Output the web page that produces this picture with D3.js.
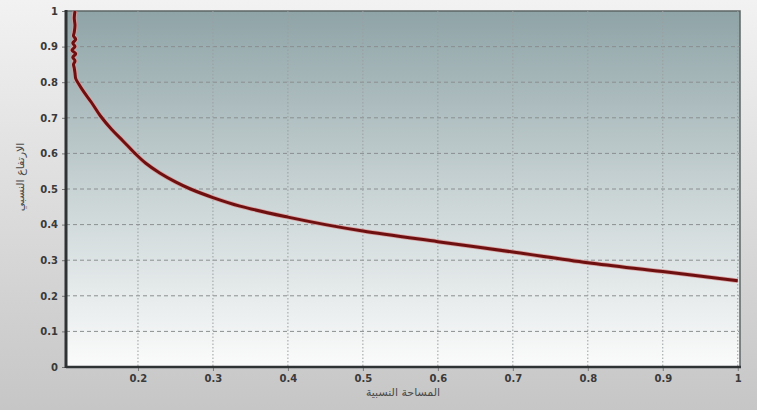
<!DOCTYPE html>
<html>
<head>
<meta charset="utf-8">
<script src="https://cdn.jsdelivr.net/npm/d3@7"></script>
<style>
  body { margin: 0; }
  svg { display: block; }
</style>
</head>
<body>
<div id="chart"></div>
<script>
const xValues = [0.116, 0.115, 0.116, 0.115, 0.114, 0.117, 0.113, 0.116, 0.112, 0.117, 0.113,
    0.116, 0.114, 0.115, 0.116, 0.117, 0.121, 0.128, 0.138, 0.15, 0.165, 0.18, 0.196, 0.21,
    0.229, 0.25, 0.27, 0.3, 0.336, 0.4, 0.45, 0.5, 0.6, 0.7, 0.8, 0.9, 1.0];
const yValues = [1.0, 0.98, 0.96, 0.94, 0.93, 0.92, 0.91, 0.90, 0.89, 0.88, 0.87,
    0.86, 0.85, 0.84, 0.825, 0.81, 0.795, 0.772, 0.743, 0.705, 0.667, 0.635, 0.60, 0.573,
    0.545, 0.52, 0.50, 0.476, 0.452, 0.421, 0.40, 0.382, 0.352, 0.323, 0.293, 0.268, 0.242];
const xTicks = [0.2, 0.3, 0.4, 0.5, 0.6, 0.7, 0.8, 0.9, 1];
const yTicks = [0, 0.1, 0.2, 0.3, 0.4, 0.5, 0.6, 0.7, 0.8, 0.9, 1];
const xTitle = 'المساحة النسبية';
const yTitle = 'الارتفاع النسبي';

const width = 757, height = 410;
const margin = {left: 66, right: 17, top: 11, bottom: 43};

const svg = d3.select('#chart').append('svg')
    .attr('width', width)
    .attr('height', height);

const defs = svg.append('defs');
const bg = defs.append('linearGradient').attr('id', 'bg')
    .attr('x1', 0).attr('y1', 0).attr('x2', 0).attr('y2', 1);
bg.append('stop').attr('offset', '0%').attr('stop-color', '#f2f2f2');
bg.append('stop').attr('offset', '100%').attr('stop-color', '#c6c6c6');

const plotBg = defs.append('linearGradient').attr('id', 'plotBg')
    .attr('x1', 0).attr('y1', 0).attr('x2', 0).attr('y2', 1);
plotBg.append('stop').attr('offset', '0%').attr('stop-color', '#8fa4a7');
plotBg.append('stop').attr('offset', '55%').attr('stop-color', '#cdd7d8');
plotBg.append('stop').attr('offset', '100%').attr('stop-color', '#fbfbfb');

svg.append('rect')
    .attr('width', width).attr('height', height)
    .attr('fill', 'url(#bg)');

const x = d3.scaleLinear()
    .domain([0.104, 1.003])
    .range([margin.left, width - margin.right]);
const y = d3.scaleLinear()
    .domain([0, 1])
    .range([height - margin.bottom, margin.top]);

const x0 = x.range()[0], x1 = x.range()[1];
const y0 = y.range()[0], y1 = y.range()[1];

svg.append('rect')
    .attr('x', x0).attr('y', y1)
    .attr('width', x1 - x0).attr('height', y0 - y1)
    .attr('fill', 'url(#plotBg)')
    .attr('stroke', '#5d6465')
    .attr('stroke-width', 1.5);

// grid
svg.append('g').selectAll('line')
    .data(yTicks.filter(d => d < 1))
    .join('line')
    .attr('x1', x0).attr('x2', x1)
    .attr('y1', d => y(d)).attr('y2', d => y(d))
    .attr('stroke', '#8a8f90')
    .attr('stroke-width', 1)
    .attr('stroke-dasharray', '4,3');

svg.append('g').selectAll('line')
    .data(xTicks)
    .join('line')
    .attr('x1', d => Math.min(x(d), x1 - 2)).attr('x2', d => Math.min(x(d), x1 - 2))
    .attr('y1', y1).attr('y2', y0)
    .attr('stroke', '#9a9fa0')
    .attr('stroke-width', 1)
    .attr('stroke-dasharray', '1.5,2');

// axes
const yAxis = svg.append('g')
    .attr('transform', `translate(${x0},0)`)
    .call(d3.axisLeft(y).tickValues(yTicks).tickSize(4).tickPadding(4)
        .tickFormat(d => d3.format('~g')(d)));
const xAxis = svg.append('g')
    .attr('transform', `translate(0,${y0})`)
    .call(d3.axisBottom(x).tickValues(xTicks).tickSize(4).tickPadding(4)
        .tickFormat(d => d3.format('~g')(d)));

[xAxis, yAxis].forEach(a => {
    a.select('.domain').remove();
    a.selectAll('.tick line').attr('stroke', '#777');
    a.selectAll('.tick text')
        .attr('fill', '#3a3a3a')
        .attr('font-family', 'DejaVu Sans, sans-serif')
        .attr('font-size', 10)
        .attr('font-weight', 'bold');
});

svg.append('line')
    .attr('x1', x0).attr('x2', x0)
    .attr('y1', y1 - 1).attr('y2', y0 + 1)
    .attr('stroke', '#2f3334').attr('stroke-width', 3);
svg.append('line')
    .attr('x1', x0).attr('x2', x1 + 1)
    .attr('y1', y0).attr('y2', y0)
    .attr('stroke', '#2f3334').attr('stroke-width', 2.5);

// curve
const points = xValues.map((d, i) => [d, yValues[i]]);
const line = d3.line()
    .x(d => x(d[0]))
    .y(d => y(d[1]))
    .curve(d3.curveCatmullRom.alpha(0.5));

svg.append('path')
    .datum(points)
    .attr('d', line)
    .attr('fill', 'none')
    .attr('stroke', '#d9a0a0')
    .attr('stroke-width', 4.5)
    .attr('stroke-linejoin', 'round');
svg.append('path')
    .datum(points)
    .attr('d', line)
    .attr('fill', 'none')
    .attr('stroke', '#6e0f10')
    .attr('stroke-width', 3)
    .attr('stroke-linejoin', 'round');

// titles
svg.append('text')
    .attr('x', (x0 + x1) / 2)
    .attr('y', height - 14)
    .attr('text-anchor', 'middle')
    .attr('fill', '#4a4a4a')
    .attr('font-family', 'DejaVu Sans, sans-serif')
    .attr('font-size', 11)
    .text(xTitle);
svg.append('text')
    .attr('transform', `translate(24,${(y0 + y1) / 2 - 12}) rotate(-90)`)
    .attr('text-anchor', 'middle')
    .attr('fill', '#4a4a4a')
    .attr('font-family', 'DejaVu Sans, sans-serif')
    .attr('font-size', 11)
    .text(yTitle);
</script>
</body>
</html>
